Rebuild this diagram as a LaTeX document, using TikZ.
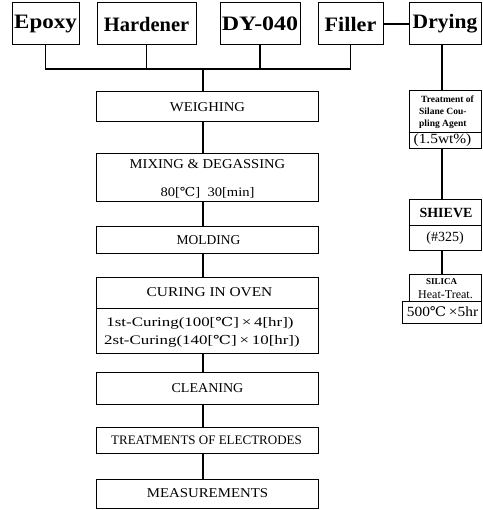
\documentclass[tikz,border=0pt]{standalone}
\usepackage{fontspec}
\setmainfont{Liberation Serif}
\newfontfamily\djserif{DejaVu Serif}
\newcommand{\dgc}{{\djserif\scalebox{0.95}{℃}}}
\newcommand{\hsc}[2]{\scalebox{#1}[1]{#2}}
\begin{document}
\begin{tikzpicture}[x=1pt,y=-1pt,
  box/.style={draw, line width=1pt, inner sep=0pt},
  conn/.style={line width=1.1pt},
  toptxt/.style={font=\bfseries\fontsize{20.5}{22}\selectfont},
  mtxt/.style={inner sep=0pt, font=\fontsize{13.5}{15}\selectfont},
  stxt/.style={inner sep=0pt, font=\fontsize{13}{15}\selectfont},
  rtxt/.style={inner sep=0pt, font=\bfseries\fontsize{9.5}{10}\selectfont, anchor=west}]
\useasboundingbox (0,0) rectangle (482,510);
% top row
\node[box, toptxt, minimum width=67, minimum height=42] (epoxy) at (45.5,24) {\hsc{1.12}{Epoxy}};
\node[box, toptxt, minimum width=99, minimum height=42] (hard) at (146.5,24) {Hardener};
\node[box, toptxt, minimum width=80, minimum height=42] (dy) at (260,24) {\hsc{1.17}{DY-040}};
\node[box, toptxt, minimum width=65, minimum height=42] (filler) at (350.5,24) {\hsc{1.08}{Filler}};
\node[box, toptxt, minimum width=72, minimum height=42] (dry) at (445,24) {\hsc{1.05}{Drying}};
\coordinate (bus) at (203,69);
\coordinate (rcol) at (442,0);
% main column
\node[box, minimum width=222, minimum height=30] (weigh) at (207,107) {};
\node[mtxt] (weight) at (207.5,107) {\hsc{1.09}{WEIGHING}};
\node[box, minimum width=222, minimum height=48] (mix) at (207,178) {};
\node[mtxt] (mixa) at (207.5,164) {\hsc{1.08}{MIXING \& DEGASSING}};
\node[stxt] (mixb) at (207.5,193) {\hsc{1.12}{80[\dgc]\ \ 30[min]}};
\node[box, minimum width=222, minimum height=26] (mold) at (207,240) {};
\node[mtxt] (moldt) at (208.5,240) {MOLDING};
\node[box, minimum width=222, minimum height=76] (cure) at (207,315) {};
\draw[line width=0.8pt] (cure.west |- 0,308) -- (cure.east |- 0,308);
\node[mtxt] (curea) at (209.5,292.5) {\hsc{1.14}{CURING IN OVEN}};
\node[stxt] (cureb) at (200,323) {\hsc{1.3}{1st-Curing(100[\dgc]\,×\,4[hr])}};
\node[stxt] (curec) at (202,341) {\hsc{1.3}{2st-Curing(140[\dgc]\,×\,10[hr])}};
\node[box, minimum width=222, minimum height=32] (clean) at (207,388) {};
\node[mtxt] (cleant) at (207.5,388) {\hsc{1.04}{CLEANING}};
\node[box, minimum width=222, minimum height=26] (treat) at (207,440) {};
\node[stxt] (treatt) at (206.5,440) {TREATMENTS OF ELECTRODES};
\node[box, minimum width=222, minimum height=29] (meas) at (207,493.5) {};
\node[mtxt] (meast) at (207.5,493.5) {\hsc{1.1}{MEASUREMENTS}};
% right column
\node[box, minimum width=72, minimum height=58] (trt) at (445,120) {};
\draw[line width=0.8pt] (trt.west |- 0,132) -- (trt.east |- 0,132);
\node[rtxt] (trta) at (421,99) {Treatment of};
\node[rtxt] (trtb) at (419,111.5) {Silane Cou-};
\node[rtxt] (trtc) at (419,124) {pling Agent};
\node[inner sep=0pt, font=\fontsize{14}{15}\selectfont] (trtd) at (442.5,140.5) {\hsc{1.1}{(1.5wt\%)}};
\node[box, minimum width=72, minimum height=50] (shv) at (445,225) {};
\draw[line width=0.8pt] (shv.west) -- (shv.east);
\node[inner sep=0pt, font=\bfseries\fontsize{14}{15}\selectfont] (shva) at (446,213) {SHIEVE};
\node[inner sep=0pt, font=\fontsize{14}{15}\selectfont] (shvb) at (445,238) {(\#325)};
\node[box, minimum width=72, minimum height=27] (sil) at (445,287.5) {};
\node[inner sep=0pt, font=\bfseries\fontsize{9}{11}\selectfont] (sila) at (441.5,281.5) {SILICA};
\node[inner sep=0pt, font=\fontsize{12}{12}\selectfont] (silb) at (445.5,295) {Heat-Treat.};
\node[box, minimum width=79, minimum height=22] (silc) at (441.5,312) {};
\node[inner sep=0pt, font=\fontsize{14}{15}\selectfont] (silct) at (442.5,312) {\hsc{1.1}{500\dgc\,×5hr}};
% connectors
\draw[conn] (epoxy.south) -- (epoxy.south |- bus) -- (filler.south |- bus) -- (filler.south);
\draw[conn] (hard.south) -- (hard.south |- bus);
\draw[conn] (dy.south) -- (dy.south |- bus);
\draw[conn] (filler.east) -- (dry.west);
\draw[conn] (bus) -- (bus |- weigh.north);
\draw[conn] (weigh.south -| bus) -- (mix.north -| bus);
\draw[conn] (mix.south -| bus) -- (mold.north -| bus);
\draw[conn] (mold.south -| bus) -- (cure.north -| bus);
\draw[conn] (cure.south -| bus) -- (clean.north -| bus);
\draw[conn] (clean.south -| bus) -- (treat.north -| bus);
\draw[conn] (treat.south -| bus) -- (meas.north -| bus);
\draw[conn] (dry.south -| rcol) -- (trt.north -| rcol);
\draw[conn] (trt.south -| rcol) -- (shv.north -| rcol);
\draw[conn] (shv.south -| rcol) -- (sil.north -| rcol);
\end{tikzpicture}
\end{document}
